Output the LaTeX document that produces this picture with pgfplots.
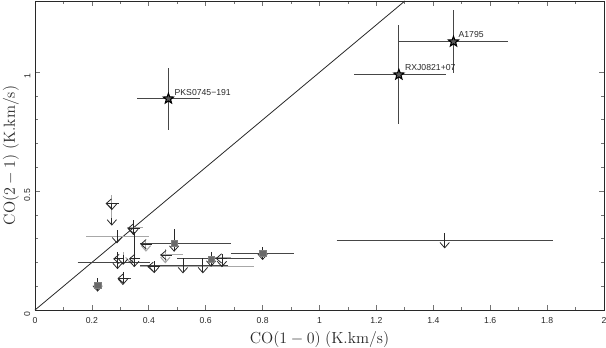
\documentclass[border=0pt]{standalone}
\usepackage{fontspec}
\setsansfont{Liberation Sans}
\usepackage{pgfplots}
\usepackage{pgfplotstable}
\pgfplotsset{compat=1.18}
\usetikzlibrary{arrows.meta}

\definecolor{ink}{RGB}{40,40,40}
\definecolor{bar}{RGB}{70,70,70}
\definecolor{lgray}{RGB}{168,168,168}
\definecolor{sqfill}{RGB}{105,105,105}

% five-pointed star mark
\pgfdeclareplotmark{pstar}{%
  \pgfpathmoveto{\pgfpointpolar{90}{\pgfplotmarksize}}%
  \pgfpathlineto{\pgfpointpolar{126}{0.42\pgfplotmarksize}}%
  \pgfpathlineto{\pgfpointpolar{162}{\pgfplotmarksize}}%
  \pgfpathlineto{\pgfpointpolar{198}{0.42\pgfplotmarksize}}%
  \pgfpathlineto{\pgfpointpolar{234}{\pgfplotmarksize}}%
  \pgfpathlineto{\pgfpointpolar{270}{0.42\pgfplotmarksize}}%
  \pgfpathlineto{\pgfpointpolar{306}{\pgfplotmarksize}}%
  \pgfpathlineto{\pgfpointpolar{342}{0.42\pgfplotmarksize}}%
  \pgfpathlineto{\pgfpointpolar{18}{\pgfplotmarksize}}%
  \pgfpathlineto{\pgfpointpolar{54}{0.42\pgfplotmarksize}}%
  \pgfpathclose\pgfusepathqfillstroke}

% detections
\pgfplotstableread{
x     y     exm   exp   eym   eyp
0.469 0.889 0.110 0.110 0.130 0.130
1.279 0.990 0.158 0.165 0.208 0.208
1.471 1.129 0.190 0.190 0.134 0.134
}\stars

% black segments, no head
\pgfplotstableread{
x     y     u     v
0.37  0.280 0.32  0
0.15  0.200 0.255 0
0.37  0.187 0.31  0
0.50  0.217 0.27  0
0.69  0.240 0.22  0
1.06  0.294 0.76  0
0.309 0.133 0.03  0
}\blines

% black arrows
\pgfplotstableread{
x     y     u      v
0.27  0.448 0      -0.028
0.27  0.385 0      -0.030
0.346 0.378 0      -0.063
0.288 0.336 0      -0.056
0.489 0.339 0      -0.094
0.29  0.245 0      -0.073
0.349 0.330 0      -0.150
0.419 0.205 0      -0.050
0.52  0.217 0      -0.063
0.59  0.217 0      -0.063
0.619 0.245 0      -0.063
0.657 0.235 0      -0.055
0.80  0.266 0      -0.056
1.44  0.325 0      -0.066
0.309 0.160 0      -0.055
0.22  0.133 0      -0.056
0.31  0.230 0      -0.040
0.295 0.448 -0.047 0
0.37  0.343 -0.045 0
0.41  0.277 -0.040 0
0.31  0.215 -0.035 0
0.37  0.215 -0.040 0
0.33  0.133 -0.040 0
0.44  0.182 -0.045 0
0.48  0.231 -0.040 0
0.675 0.217 -0.040 0
}\barrows

% grey segments, no head
\pgfplotstableread{
x     y     u     v
0.27  0.483 0     -0.110
0.323 0.348 0.058 0
0.18  0.308 0.22  0
0.37  0.182 0.40  0
0.44  0.234 0.08  0
0.61  0.222 0.08  0
0.31  0.245 0     -0.030
}\glines

% grey arrows
\pgfplotstableread{
x     y     u     v
0.39  0.290 0     -0.045
0.458 0.255 0     -0.059
0.335 0.225 0     -0.030
}\garrows

% shaded limits
\pgfplotstableread{
x     y
0.22  0.105
0.489 0.280
0.619 0.213
0.80  0.238
}\squares

\begin{document}
\begin{tikzpicture}
\begin{axis}[
  scale only axis, width=426.75pt, height=231.75pt,
  xmin=0, xmax=2, ymin=0, ymax=1.3,
  xtick={0,0.2,0.4,0.6,0.8,1,1.2,1.4,1.6,1.8,2},
  ytick={0,0.5,1},
  minor x tick num=1, minor y tick num=4,
  tick align=inside,
  major tick length=4pt, minor tick length=2.5pt,
  axis line style={ink, line width=0.6pt},
  tick style={black!55, line width=0.6pt},
  /pgf/number format/assume math mode=true,
  ticklabel style={font=\sffamily\fontsize{6.5}{7}\selectfont, text=ink},
  xticklabel style={yshift=-2pt},
  yticklabel style={rotate=90, anchor=south, xshift=-3pt},
  xlabel={$\mathrm{CO(1-0)\;(K.km/s)}$},
  ylabel={$\mathrm{CO(2-1)\;(K.km/s)}$},
  xlabel style={at={(axis description cs:0.5,0)}, anchor=center, yshift=-21.75pt,
    font=\fontsize{12}{14}\selectfont, text=ink},
  ylabel style={at={(axis description cs:0,0.5)}, anchor=center, yshift=18pt,
    font=\fontsize{12}{14}\selectfont, text=ink},
  clip=false,
]
\addplot[ink, line width=0.6pt] coordinates {(0,0) (1.3,1.3)};

\addplot[only marks, mark=square*, mark size=2.4pt,
  mark options={fill=sqfill, draw=gray}] table {\squares};

\addplot[lgray, line width=0.8pt, quiver={u=\thisrow{u}, v=\thisrow{v}}] table {\glines};
\addplot[lgray, line width=0.8pt, quiver={u=\thisrow{u}, v=\thisrow{v}},
  -{Straight Barb[length=4pt,width=7pt]}] table {\garrows};
\addplot[bar, line width=0.6pt, quiver={u=\thisrow{u}, v=\thisrow{v}}] table {\blines};
\addplot[ink, line width=0.6pt, quiver={u=\thisrow{u}, v=\thisrow{v}},
  -{Straight Barb[length=4pt,width=7pt]}] table {\barrows};

\addplot[only marks, mark=pstar, mark size=4pt, ink,
  mark options={line width=0.8pt, fill=black!65, draw=black},
  error bars/.cd, x dir=both, x explicit, y dir=both, y explicit,
  error mark=none, error bar style={bar, line width=0.6pt}]
  table[x=x, y=y, x error plus=exp, x error minus=exm,
        y error plus=eyp, y error minus=eym] {\stars};

\node[anchor=west, inner sep=0, font=\sffamily\fontsize{6.5}{7}\selectfont, text=ink]
  at (axis cs:0.49,0.917) {PKS0745−191};
\node[anchor=west, inner sep=0, font=\sffamily\fontsize{6.5}{7}\selectfont, text=ink]
  at (axis cs:1.30,1.022) {RXJ0821+07};
\node[anchor=west, inner sep=0, font=\sffamily\fontsize{6.5}{7}\selectfont, text=ink]
  at (axis cs:1.488,1.16) {A1795};
\end{axis}
\pgfresetboundingbox
\path ([shift={(-26.25pt,-27.75pt)}]current axis.south west)
  rectangle ([shift={(1.5pt,0.75pt)}]current axis.north east);
\end{tikzpicture}
\end{document}
